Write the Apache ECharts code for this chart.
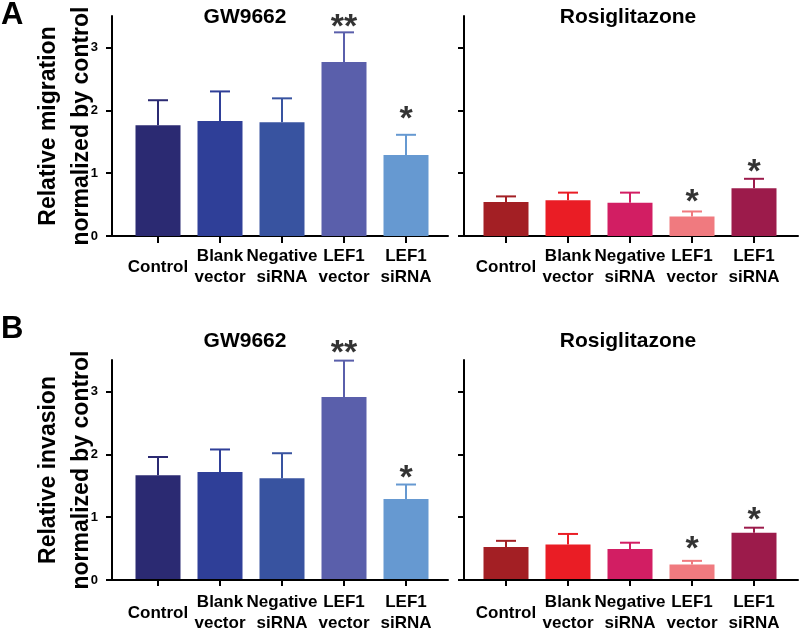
<!DOCTYPE html>
<html><head><meta charset="utf-8">
<script src="https://cdn.jsdelivr.net/npm/echarts@6/dist/echarts.min.js"></script>
<style>html,body{margin:0;padding:0;background:#fff}#c{width:800px;height:634px}</style>
</head><body><div id="c"></div>
<script>
const categories = ['Control', 'Blank\nvector', 'Negative\nsiRNA', 'LEF1\nvector', 'LEF1\nsiRNA'];
const yTicks = [0, 1, 2, 3];
const yMax = 3.5;

const migGW = [1.76, 1.83, 1.81, 2.77, 1.29];
const migGWErr = [0.40, 0.47, 0.38, 0.47, 0.32];
const migGWStars = ['', '', '', '**', '*'];
const migGWStarY = [null, null, null, 3.46, 1.99];

const migRosi = [0.54, 0.57, 0.53, 0.31, 0.76];
const migRosiErr = [0.09, 0.12, 0.16, 0.08, 0.15];
const migRosiStars = ['', '', '', '*', '*'];
const migRosiStarY = [null, null, null, 0.67, 1.15];

const invGW = [1.66, 1.71, 1.61, 2.91, 1.28];
const invGWErr = [0.29, 0.36, 0.40, 0.58, 0.23];
const invGWStars = ['', '', '', '**', '*'];
const invGWStarY = [null, null, null, 3.75, 1.75];

const invRosi = [0.51, 0.55, 0.48, 0.23, 0.74];
const invRosiErr = [0.10, 0.17, 0.10, 0.06, 0.08];
const invRosiStars = ['', '', '', '*', '*'];
const invRosiStarY = [null, null, null, 0.62, 1.07];

const blues = ['#2b2a72', '#2f3f98', '#3853a0', '#5a5fab', '#6699d1'];
const reds = ['#a31f24', '#ea1d25', '#d21e63', '#f07a7f', '#9c1b4b'];

const FONT = "'Liberation Sans', Arial, sans-serif";

const panels = [
  {vals: migGW, err: migGWErr, stars: migGWStars, starY: migGWStarY, colors: blues, top: 16, axLeft: 112, axW: 336, barLeft: 127, labMargin: 31, yName: 'Relative migration\nnormalized by control'},
  {vals: migRosi, err: migRosiErr, stars: migRosiStars, starY: migRosiStarY, colors: reds, top: 16, axLeft: 464, axW: 334, barLeft: 475, labMargin: 31, yName: ''},
  {vals: invGW, err: invGWErr, stars: invGWStars, starY: invGWStarY, colors: blues, top: 360, axLeft: 112, axW: 336, barLeft: 127, labMargin: 34, yName: 'Relative invasion\nnormalized by control'},
  {vals: invRosi, err: invRosiErr, stars: invRosiStars, starY: invRosiStarY, colors: reds, top: 360, axLeft: 464, axW: 334, barLeft: 475, labMargin: 34, yName: ''}
];

const grid = [], xAxis = [], yAxis = [], series = [];
panels.forEach((p, k) => {
  const ga = 2 * k, gb = 2 * k + 1;
  grid.push({left: p.axLeft, top: p.top, width: p.axW, height: 220});
  grid.push({left: p.barLeft, top: p.top, width: 310, height: 220});
  xAxis.push({gridIndex: ga, type: 'value', min: 0, max: 1,
    axisLine: {show: true, lineStyle: {color: '#000', width: 2}},
    axisTick: {show: false}, axisLabel: {show: false}, splitLine: {show: false}});
  xAxis.push({gridIndex: gb, type: 'category', data: categories,
    axisLine: {show: false},
    axisTick: {show: true, alignWithLabel: true, length: 7, lineStyle: {color: '#000', width: 2}},
    axisLabel: {interval: 0, fontSize: 17, fontWeight: 'bold', fontFamily: FONT, color: '#000',
      lineHeight: 21, verticalAlign: 'middle', margin: p.labMargin},
    splitLine: {show: false}});
  yAxis.push({gridIndex: ga, type: 'value', min: 0, max: yMax,
    name: p.yName, nameLocation: 'middle', nameRotate: 90, nameGap: 14, nameMoveOverlap: false,
    nameTextStyle: {fontSize: 23, fontWeight: 'bold', fontFamily: FONT, color: '#000', lineHeight: 33},
    axisLine: {show: true, lineStyle: {color: '#000', width: 2}},
    axisTick: {show: true, length: 6, customValues: yTicks, lineStyle: {color: '#000', width: 2}},
    axisLabel: {show: k % 2 === 0, customValues: yTicks, fontSize: 13, fontWeight: 'bold', fontFamily: FONT, color: '#000', margin: 14},
    splitLine: {show: false}});
  yAxis.push({gridIndex: gb, type: 'value', min: 0, max: yMax, show: false});

  series.push({type: 'bar', xAxisIndex: gb, yAxisIndex: gb, barWidth: 45,
    data: p.vals.map((v, i) => ({value: v, itemStyle: {color: p.colors[i]}})), z: 2});
  series.push({type: 'custom', xAxisIndex: gb, yAxisIndex: gb, z: 3,
    data: p.vals.map((v, i) => [i, v, p.err[i]]),
    renderItem: (params, api) => {
      const i = api.value(0), m = api.value(1), e = api.value(2);
      const b = api.coord([i, m]);
      const t = api.coord([i, m + e]);
      const c = p.colors[i];
      return {type: 'group', children: [
        {type: 'line', shape: {x1: b[0], y1: b[1], x2: t[0], y2: t[1]}, style: {stroke: c, lineWidth: 2}},
        {type: 'line', shape: {x1: t[0] - 10, y1: t[1], x2: t[0] + 10, y2: t[1]}, style: {stroke: c, lineWidth: 2}}
      ]};
    }});
  series.push({type: 'scatter', xAxisIndex: gb, yAxisIndex: gb, symbolSize: 0, clip: false, z: 4,
    data: p.stars.map((s, i) => s ? {value: [i, p.starY[i]], label: {formatter: s}} : null).filter(d => d),
    label: {show: true, position: 'inside', offset: [0, 9], fontSize: 34, fontWeight: 'bold', fontFamily: FONT, color: '#000'}});
});

const txt = (text, x, y, size, align) => ({type: 'text', x: x, y: y, silent: true,
  style: {text: text, font: 'bold ' + size + 'px ' + FONT, fill: '#000', align: align, verticalAlign: 'middle'}});

const chart = echarts.init(document.getElementById('c'), null, {renderer: 'canvas'});
chart.setOption({
  animation: false,
  backgroundColor: '#fff',
  grid, xAxis, yAxis, series,
  graphic: [
    txt('A', 1, 15, 31, 'left'),
    txt('B', 1, 329, 31, 'left'),
    txt('GW9662', 245, 17, 21, 'center'),
    txt('Rosiglitazone', 628, 17, 21, 'center'),
    txt('GW9662', 245, 341, 21, 'center'),
    txt('Rosiglitazone', 628, 341, 21, 'center')
  ]
});
</script></body></html>
